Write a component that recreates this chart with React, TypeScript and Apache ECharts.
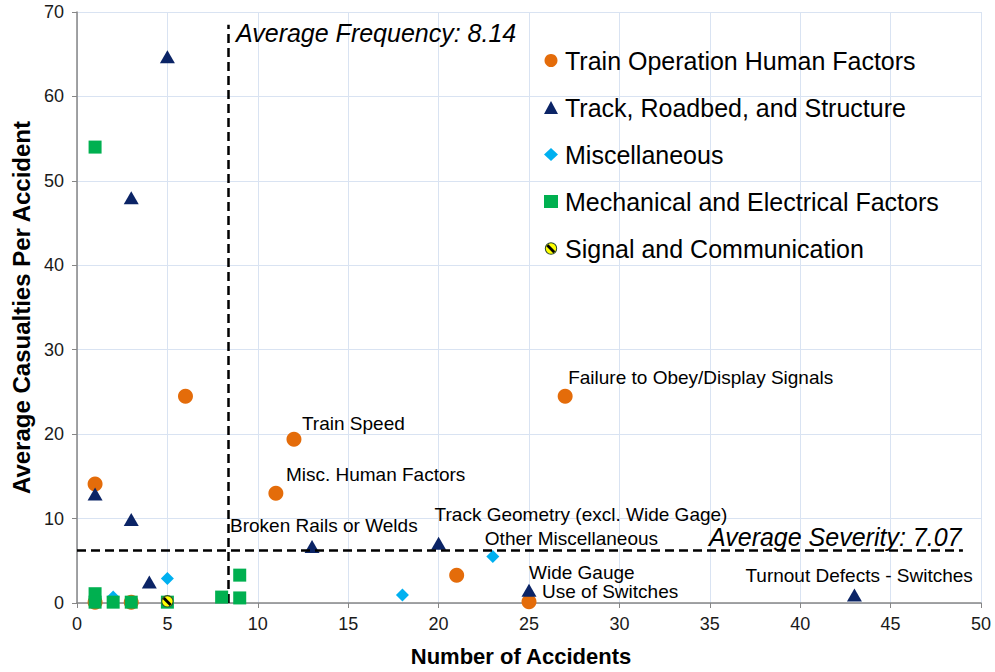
import React, { useEffect, useRef } from "react";
import * as echarts from "echarts";

// ---------- data ----------
const SERIES_NAMES = [
  "Train Operation Human Factors",
  "Track, Roadbed, and Structure",
  "Miscellaneous",
  "Mechanical and Electrical Factors",
  "Signal and Communication",
];

const humanX = [1, 6, 12, 11, 27, 21, 25, 1, 3];
const humanY = [14.1, 24.5, 19.4, 13.0, 24.5, 3.3, 0.15, 0.1, 0.1];
const humanLabels = ["", "", "Train Speed", "Misc. Human Factors", "Failure to Obey/Display Signals", "", "Use of Switches", "", ""];

const trackX = [5, 3, 1, 3, 4, 13, 20, 25, 43];
const trackY = [64.7, 48.0, 12.9, 9.9, 2.5, 6.7, 7.07, 1.5, 0.95];
const trackLabels = ["", "", "", "", "", "Broken Rails or Welds", "Track Geometry (excl. Wide Gage)", "Wide Gauge", "Turnout Defects - Switches"];

const miscX = [5, 2, 18, 23];
const miscY = [2.9, 0.7, 0.95, 5.5];
const miscLabels = ["", "", "", "Other Miscellaneous"];

const mechX = [1, 1, 1, 2, 3, 5, 8, 9, 9];
const mechY = [54.0, 1.1, 0.1, 0.1, 0.1, 0.1, 0.7, 3.3, 0.6];

const signalX = [5];
const signalY = [0.2];

const AVG_FREQUENCY_POS = 8.37;
const AVG_SEVERITY_POS = 6.2;
const AVG_FREQUENCY_TEXT = "Average Frequency: 8.14";
const AVG_SEVERITY_TEXT = "Average Severity: 7.07";

const X_TITLE = "Number of Accidents";
const Y_TITLE = "Average Casualties Per Accident";

// ---------- styles ----------
const FONT = '"Liberation Sans", Arial, Helvetica, sans-serif';
const COLORS = ["#E46C0A", "#0B2466", "#00B0F0", "#00B050", "#FFFF00"];
const LABEL_OFFSETS: Record<string, [number, number]> = {
  "Train Speed": [8, -16],
  "Misc. Human Factors": [10, -19],
  "Failure to Obey/Display Signals": [3, -19],
  "Use of Switches": [13, -10],
  "Broken Rails or Welds": [-82, -21],
  "Track Geometry (excl. Wide Gage)": [-4, -29],
  "Wide Gauge": [0, -18],
  "Turnout Defects - Switches": [-109, -19],
  "Other Miscellaneous": [-8, -18],
};

const signalSvg =
  "<svg xmlns='http://www.w3.org/2000/svg' width='32' height='32' viewBox='0 0 32 32'>" +
  "<circle cx='16' cy='16' r='14' fill='#FFFF00' stroke='#2E4A2E' stroke-width='2.5'/>" +
  "<line x1='7' y1='8' x2='24' y2='25' stroke='#000' stroke-width='7'/>" +
  "</svg>";
const SIGNAL_SYMBOL = "image://data:image/svg+xml;charset=utf-8," + encodeURIComponent(signalSvg);

function buildData(xs: number[], ys: number[], labels?: string[]) {
  return xs.map((x, i) => {
    const lab = labels ? labels[i] : "";
    const item: any = { value: [x, ys[i]] };
    if (lab) {
      const off = LABEL_OFFSETS[lab] || [0, -18];
      item.label = {
        show: true,
        position: "inside",
        align: "left",
        verticalAlign: "middle",
        offset: off,
        formatter: lab,
        color: "#000",
        fontSize: 19,
        fontFamily: FONT,
      };
    }
    return item;
  });
}

export default function App() {
  const ref = useRef<HTMLDivElement>(null);

  useEffect(() => {
    if (!ref.current) return;
    const chart = echarts.init(ref.current, null, { renderer: "svg" });
    const option: any = {
      animation: false,
      backgroundColor: "#ffffff",
      textStyle: { fontFamily: FONT },
      grid: { left: 77, right: 14, top: 12, bottom: 69, containLabel: false },
      xAxis: {
        type: "value",
        min: 0,
        max: 50,
        interval: 5,
        name: X_TITLE,
        nameLocation: "middle",
        nameGap: 42,
        nameTextStyle: { fontSize: 22, fontWeight: "bold", color: "#000", fontFamily: FONT, padding: [0, 16, 0, 0] },
        axisLine: { show: true, onZero: false, lineStyle: { color: "#868686", width: 1.5 } },
        axisTick: { show: true, length: 5, lineStyle: { color: "#868686" } },
        axisLabel: { fontSize: 18, color: "#1a1a1a", margin: 12, fontFamily: FONT },
        splitLine: { show: true, lineStyle: { color: "#D9E3F2", width: 1 } },
      },
      yAxis: {
        type: "value",
        min: 0,
        max: 70,
        interval: 10,
        name: Y_TITLE,
        nameLocation: "middle",
        nameGap: 41,
        nameRotate: 90,
        nameTextStyle: { fontSize: 24, fontWeight: "bold", color: "#000", fontFamily: FONT },
        axisLine: { show: true, onZero: false, lineStyle: { color: "#868686", width: 1.5 } },
        axisTick: { show: true, length: 5, lineStyle: { color: "#868686" } },
        axisLabel: { fontSize: 18, color: "#1a1a1a", margin: 13, fontFamily: FONT },
        splitLine: { show: true, lineStyle: { color: "#D9E3F2", width: 1 } },
      },
      legend: {
        orient: "vertical",
        left: 539,
        top: 43,
        itemWidth: 14,
        itemHeight: 13,
        itemGap: 22,
        data: SERIES_NAMES,
        textStyle: { fontSize: 25, color: "#000", fontFamily: FONT, lineHeight: 25, padding: [0, 0, 0, 2] },
      },
      graphic: [
        {
          type: "text",
          x: 236,
          y: 33,
          z: 100,
          style: {
            text: AVG_FREQUENCY_TEXT,
            font: 'italic 25px "Liberation Sans", Arial, sans-serif',
            fill: "#000",
            verticalAlign: "middle",
          },
        },
        {
          type: "text",
          x: 709,
          y: 537,
          z: 100,
          style: {
            text: AVG_SEVERITY_TEXT,
            font: 'italic 25px "Liberation Sans", Arial, sans-serif',
            fill: "#000",
            verticalAlign: "middle",
          },
        },
      ],
      series: [
        {
          name: "averages",
          type: "scatter",
          data: [],
          z: 1,
          markLine: {
            silent: true,
            symbol: "none",
            label: { show: false },
            lineStyle: { type: [9, 5], color: "#000", width: 2.5 },
            data: [
              [{ coord: [AVG_FREQUENCY_POS, 0] }, { coord: [AVG_FREQUENCY_POS, 68.5] }],
              [{ coord: [0, AVG_SEVERITY_POS] }, { coord: [49, AVG_SEVERITY_POS] }],
            ],
          },
        },
        {
          name: SERIES_NAMES[0],
          type: "scatter",
          symbol: "circle",
          symbolSize: 15,
          itemStyle: { color: COLORS[0], opacity: 1 },
          data: buildData(humanX, humanY, humanLabels),
          z: 2,
        },
        {
          name: SERIES_NAMES[1],
          type: "scatter",
          symbol: "triangle",
          symbolSize: [15, 13],
          itemStyle: { color: COLORS[1], opacity: 1 },
          data: buildData(trackX, trackY, trackLabels),
          z: 3,
        },
        {
          name: SERIES_NAMES[2],
          type: "scatter",
          symbol: "diamond",
          symbolSize: 13,
          itemStyle: { color: COLORS[2], opacity: 1 },
          data: buildData(miscX, miscY, miscLabels),
          z: 4,
        },
        {
          name: SERIES_NAMES[3],
          type: "scatter",
          symbol: "rect",
          symbolSize: 13,
          itemStyle: { color: COLORS[3], opacity: 1 },
          data: buildData(mechX, mechY),
          z: 5,
        },
        {
          name: SERIES_NAMES[4],
          type: "scatter",
          symbol: SIGNAL_SYMBOL,
          symbolSize: 13,
          itemStyle: { color: COLORS[4], opacity: 1 },
          data: buildData(signalX, signalY),
          z: 6,
        },
      ],
    };
    chart.setOption(option);
    return () => chart.dispose();
  }, []);

  return <div ref={ref} style={{ width: 995, height: 672, position: "absolute", left: 0, top: 0 }} />;
}
